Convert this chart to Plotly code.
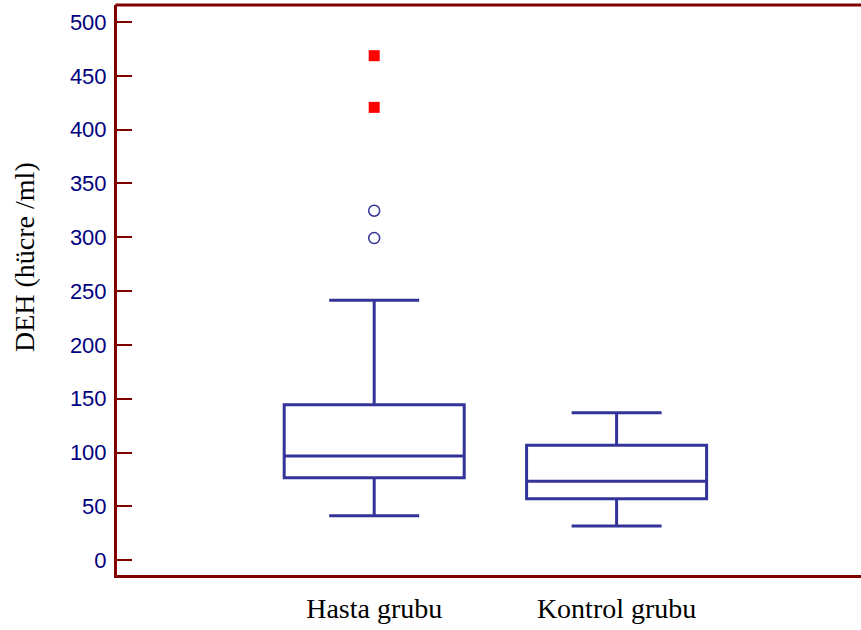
import plotly.graph_objects as go

categories = ["Hasta grubu", "Kontrol grubu"]
lower_whisker = [41.4, 31.9]
q1 = [76.7, 57.2]
median = [96.9, 73.4]
q3 = [144.5, 106.8]
upper_whisker = [241.5, 137.1]
# outside values (circles) and far-out values (squares) for "Hasta grubu"
outside_values = [324.7, 299.3]
far_out_values = [468.7, 420.7]

yticks = [0, 50, 100, 150, 200, 250, 300, 350, 400, 450, 500]

BOX_COLOR = "#333399"
AXIS_COLOR = "#800000"
xpos = list(range(len(categories)))

fig = go.Figure()
fig.add_trace(go.Box(
    x=xpos,
    q1=q1, median=median, q3=q3,
    lowerfence=lower_whisker, upperfence=upper_whisker,
    boxpoints=False,
    width=0.7426,
    whiskerwidth=0.5,
    line=dict(color=BOX_COLOR, width=3),
    fillcolor="rgba(0,0,0,0)",
    showlegend=False,
    hoverinfo="skip",
))
fig.add_trace(go.Scatter(
    x=[xpos[0]] * len(outside_values), y=outside_values,
    mode="markers",
    marker=dict(symbol="circle-open", size=11, color=BOX_COLOR, line=dict(width=1.5, color=BOX_COLOR)),
    showlegend=False,
))
fig.add_trace(go.Scatter(
    x=[xpos[0]] * len(far_out_values), y=far_out_values,
    mode="markers",
    marker=dict(symbol="square", size=11, color="#ff0000", line=dict(width=0)),
    showlegend=False,
))

fig.update_layout(
    width=875, height=630,
    margin=dict(l=117, r=0, t=5, b=55),
    paper_bgcolor="white", plot_bgcolor="white",
    xaxis=dict(
        range=[-1.061, 2.066],
        tickvals=xpos, ticktext=categories,
        showgrid=False, zeroline=False,
        showline=True, linecolor=AXIS_COLOR, linewidth=3, mirror=False,
        ticks="",
        ticklabelstandoff=6,
        tickfont=dict(family="Liberation Serif", size=28, color="black"),
    ),
    yaxis=dict(
        range=[-13.7, 515.8],
        tickvals=yticks,
        showgrid=False, zeroline=False,
        showline=True, linecolor=AXIS_COLOR, linewidth=3, mirror=False,
        ticks="inside", ticklen=15, tickwidth=2, tickcolor=AXIS_COLOR,
        ticklabelstandoff=3,
        tickfont=dict(family="Liberation Sans", size=22, color="#000080"),
    ),
    shapes=[dict(
        type="line", xref="paper", yref="paper",
        x0=-0.002, x1=1, y0=1, y1=1,
        line=dict(color=AXIS_COLOR, width=3),
    )],
    annotations=[dict(
        text="DEH (hücre /ml)",
        xref="paper", yref="paper",
        x=(24 - 117) / 758, y=(575 - 257) / 570,
        xanchor="center", yanchor="middle",
        textangle=-90, showarrow=False,
        font=dict(family="Liberation Serif", size=28, color="black"),
    )],
)

fig.write_html(
    "out.html",
    config={"displayModeBar": False},
    post_script="document.body.style.margin='0';document.body.style.overflow='hidden';",
)
